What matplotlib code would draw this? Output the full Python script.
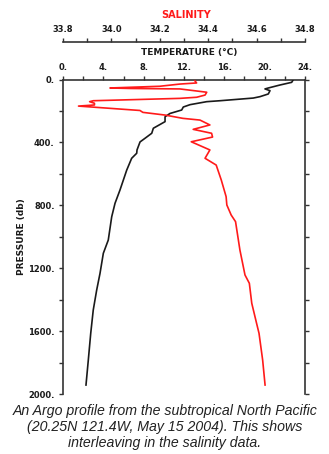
import matplotlib
matplotlib.use("Agg")
import matplotlib.pyplot as plt
from matplotlib.ticker import MultipleLocator, FixedLocator

# Argo float profile, 20.25N 121.4W, 15 May 2004
temp_pressure = [1, 18, 35, 54, 60, 71, 92, 109, 118, 135, 141, 160, 175, 194,
                 216, 237, 268, 310, 342, 374, 397, 448, 469, 501, 576, 703,
                 787, 873, 1021, 1105, 1233, 1339, 1466, 1614, 1784, 1943]
temperature = [22.84, 22.68, 21.52, 20.36, 20.03, 20.53, 20.36, 19.54, 18.87,
               15.57, 14.25, 12.60, 11.93, 11.77, 10.61, 10.12, 10.12, 8.96,
               8.80, 8.13, 7.64, 7.34, 7.31, 6.81, 6.32, 5.65, 5.16, 4.83,
               4.49, 4.00, 3.67, 3.34, 3.00, 2.75, 2.51, 2.28]

sal_pressure = [8, 22, 29, 43, 54, 57, 60, 81, 99, 113, 120, 135, 141, 151,
                162, 169, 197, 209, 226, 247, 258, 289, 317, 342, 366, 396,
                448, 501, 544, 639, 745, 798, 862, 904, 1084, 1243, 1296,
                1423, 1551, 1614, 1784, 1943]
salinity = [34.345, 34.352, 34.283, 34.200, 33.994, 34.080, 34.283, 34.394,
            34.387, 34.352, 34.283, 33.925, 33.910, 33.930, 33.930, 33.864,
            34.118, 34.130, 34.221, 34.295, 34.366, 34.407, 34.338, 34.414,
            34.418, 34.330, 34.407, 34.387, 34.433, 34.454, 34.474, 34.477,
            34.495, 34.513, 34.531, 34.552, 34.570, 34.580, 34.600, 34.610,
            34.625, 34.635]

temp_ticks = [0, 4, 8, 12, 16, 20, 24]
temp_labels = ["0.", "4.", "8.", "12.", "16.", "20.", "24."]
sal_ticks = [33.8, 34.0, 34.2, 34.4, 34.6, 34.8]
sal_labels = ["33.8", "34.0", "34.2", "34.4", "34.6", "34.8"]
pres_ticks = [0, 400, 800, 1200, 1600, 2000]
pres_labels = ["0.", "400.", "800.", "1200.", "1600.", "2000."]

caption = ("An Argo profile from the subtropical North Pacific\n"
           "(20.25N 121.4W, May 15 2004). This shows\n"
           "interleaving in the salinity data.")

W, H = 329, 454
axis_color = "#333333"
tick_font = dict(family="DejaVu Sans", weight="bold", size=6)

fig = plt.figure(figsize=(W / 100, H / 100), dpi=100)
left, right, top, bottom = 63, 305, 79.5, 394
ax = fig.add_axes([left / W, 1 - bottom / H, (right - left) / W, (bottom - top) / H])
ax2 = ax.twiny()

# temperature profile and pressure scale
ax.plot(temperature, temp_pressure, color="#1a1a1a", lw=1.2, zorder=3)
ax.set_xlim(0, 24)
ax.set_ylim(2000, 0)

for side in ("left", "right", "top"):
    ax.spines[side].set_color(axis_color)
    ax.spines[side].set_linewidth(1.2)
ax.spines["bottom"].set_visible(False)

ax.xaxis.tick_top()
ax.xaxis.set_label_position("top")
ax.xaxis.set_major_locator(FixedLocator(temp_ticks))
ax.xaxis.set_minor_locator(MultipleLocator(2))
ax.set_xticklabels(temp_labels, fontdict=tick_font)
ax.yaxis.set_major_locator(FixedLocator(pres_ticks))
ax.yaxis.set_minor_locator(MultipleLocator(200))
ax.set_yticklabels(pres_labels, fontdict=tick_font)
ax.tick_params(axis="both", which="both", direction="out", length=3,
               width=1, color=axis_color, labelcolor="#1a1a1a")
ax.tick_params(axis="x", which="both", top=True, bottom=False,
               labeltop=True, labelbottom=False, pad=2.5)
ax.tick_params(axis="y", which="both", left=True, right=True, pad=3)

# salinity profile on its own scale, drawn above the temperature scale
ax2.plot(salinity, sal_pressure, color="#ff1a1a", lw=1.2, zorder=3)
ax2.set_xlim(33.8, 34.8)
ax2.set_ylim(2000, 0)
for side in ("left", "right", "bottom"):
    ax2.spines[side].set_visible(False)
ax2.spines["top"].set_position(("outward", 27))
ax2.spines["top"].set_color(axis_color)
ax2.spines["top"].set_linewidth(1.2)
ax2.xaxis.set_major_locator(FixedLocator(sal_ticks))
ax2.xaxis.set_minor_locator(MultipleLocator(0.1))
ax2.set_xticklabels(sal_labels, fontdict=tick_font)
ax2.tick_params(axis="x", which="both", direction="out", length=3, width=1,
                color=axis_color, labelcolor="#1a1a1a", pad=2.5,
                top=True, bottom=False, labeltop=True, labelbottom=False)

fig.text(186.5 / W, 1 - 15.5 / H, "SALINITY", color="#ff1a1a", ha="center",
         va="center", family="DejaVu Sans", weight="bold", size=7)
fig.text(189 / W, 1 - 53 / H, "TEMPERATURE (\u00b0C)", color="#1a1a1a",
         ha="center", va="center", family="DejaVu Sans", weight="bold", size=6.5)
fig.text(22 / W, 1 - 237 / H, "PRESSURE (db)", color="#1a1a1a", ha="center",
         va="center", rotation=90, family="DejaVu Sans", weight="bold", size=6.5)

fig.text(165 / W, 1 - 427 / H, caption, ha="center", va="center",
         family="Liberation Sans", style="italic", size=10.2, color="#222222",
         linespacing=1.22)

fig.savefig("out.png", dpi=100)
